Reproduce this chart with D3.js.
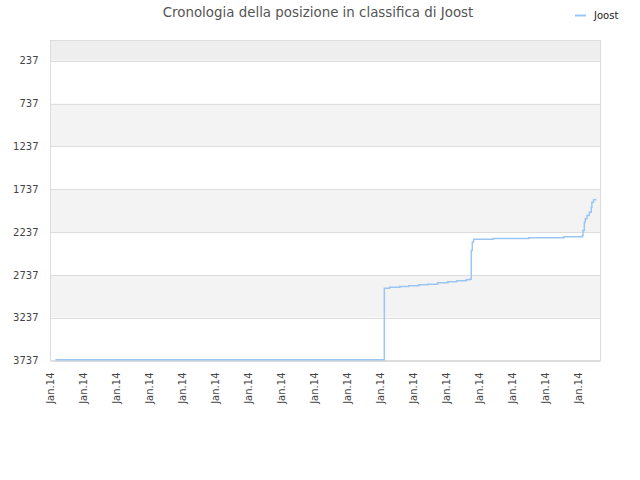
<!DOCTYPE html>
<html>
<head>
    <meta charset="utf-8">
    <title>Cronologia della posizione in classifica di Joost</title>
    <script src="https://d3js.org/d3.v7.min.js"></script>
    <style>
        body, html {
            margin: 0;
            background: #fff;
            overflow: hidden;
        }
        text {
            font-family: "DejaVu Sans", sans-serif;
        }
    </style>
</head>
<body>

<div id="chart"></div>
<script>
    // step positions along the time axis (10 units per tick) and rank at each step
    const days = [1.5, 101, 102.6, 105.7, 108.4, 111.4, 114.1, 117.1, 120.2, 122.9, 125.8, 126.8,
                  127.3, 127.6, 128, 133.9, 144.7, 155.3, 160.9, 161.1, 161.5, 161.8, 162.3,
                  163, 163.6, 163.8, 164.3, 164.9];
    const ranks = [3729, 2893, 2881, 2873, 2865, 2853, 2846, 2829, 2818, 2806, 2795, 2788,
                   2452, 2355, 2320, 2312, 2304, 2292, 2281, 2219, 2122, 2082, 2044,
                   2005, 1947, 1888, 1860, 1849];
    const yTicks = [237, 737, 1237, 1737, 2237, 2737, 3237, 3737];
    const xTickValues = d3.range(0, 170, 10);
    const xTickLabels = xTickValues.map(() => "Jan.14");
    const seriesName = "Joost";
    const title = "Cronologia della posizione in classifica di Joost";

    const width = 640,
          height = 480,
          plotLeft = 50.5,
          plotRight = 600.5,
          plotTop = 40.5,
          plotBottom = 360.5;

    const svg = d3.select("#chart")
                  .append("svg")
                  .attr("width", width)
                  .attr("height", height);

    const x = d3.scaleLinear().domain([0, 166.4]).range([plotLeft, plotRight]);
    const y = d3.scaleLinear().domain([0, 3737]).range([plotTop, plotBottom]);

    // alternating bands between gridlines
    const bandEdges = [0].concat(yTicks);
    for (let i = 0; i < bandEdges.length - 1; i++) {
        let fill = (i % 2 === 0) ? "#f3f3f3" : "#ffffff";
        if (i === 0) fill = "#eeeeee";
        svg.append("rect")
           .attr("x", plotLeft)
           .attr("y", y(bandEdges[i]))
           .attr("width", plotRight - plotLeft)
           .attr("height", y(bandEdges[i + 1]) - y(bandEdges[i]))
           .attr("fill", fill);
    }

    // gridlines
    svg.append("g")
       .selectAll("line")
       .data(yTicks)
       .join("line")
       .attr("x1", plotLeft)
       .attr("x2", plotRight)
       .attr("y1", d => Math.round(y(d)) + 0.5)
       .attr("y2", d => Math.round(y(d)) + 0.5)
       .attr("stroke", "#dddddd");

    // plot frame
    svg.append("rect")
       .attr("x", plotLeft)
       .attr("y", plotTop)
       .attr("width", plotRight - plotLeft)
       .attr("height", plotBottom - plotTop)
       .attr("fill", "none")
       .attr("stroke", "#dddddd");

    // y axis labels
    const yAxis = svg.append("g")
       .attr("transform", `translate(${plotLeft},0)`)
       .call(d3.axisLeft(y).tickValues(yTicks).tickFormat(d3.format("d"))
               .tickSize(0).tickPadding(12));
    yAxis.select(".domain").remove();
    yAxis.selectAll("text")
         .attr("font-size", 10)
         .attr("fill", "#444")
         .style("font-family", "DejaVu Sans, sans-serif");

    // x axis labels, rotated
    const xAxis = svg.append("g")
       .attr("transform", `translate(0,${plotBottom})`)
       .call(d3.axisBottom(x).tickValues(xTickValues)
               .tickFormat((d, i) => xTickLabels[i]).tickSize(0));
    xAxis.select(".domain").remove();
    xAxis.selectAll("text")
         .attr("font-size", 10)
         .attr("fill", "#444")
         .style("font-family", "DejaVu Sans, sans-serif")
         .attr("text-anchor", "end")
         .attr("dy", "0.35em")
         .attr("transform", "translate(-1,12) rotate(-90)")
         .attr("x", 0)
         .attr("y", 0);

    // ranking line
    const pts = days.map((d, i) => [d, ranks[i]]);
    const line = d3.line()
                   .x(d => x(d[0]))
                   .y(d => y(d[1]))
                   .curve(d3.curveStepAfter);
    svg.append("path")
       .datum(pts)
       .attr("d", line)
       .attr("fill", "none")
       .attr("stroke", "#99c6f2")
       .attr("stroke-width", 1.5);

    // title
    svg.append("text")
       .attr("x", 318)
       .attr("y", 17)
       .attr("text-anchor", "middle")
       .attr("font-size", 13.4)
       .attr("fill", "#555")
       .text(title);

    // legend
    svg.append("line")
       .attr("x1", 575)
       .attr("x2", 586)
       .attr("y1", 15.5)
       .attr("y2", 15.5)
       .attr("stroke", "#99c6f2")
       .attr("stroke-width", 2);
    svg.append("text")
       .attr("x", 594)
       .attr("y", 19)
       .attr("font-size", 10)
       .attr("fill", "#222")
       .text(seriesName);
</script>

</body>
</html>
